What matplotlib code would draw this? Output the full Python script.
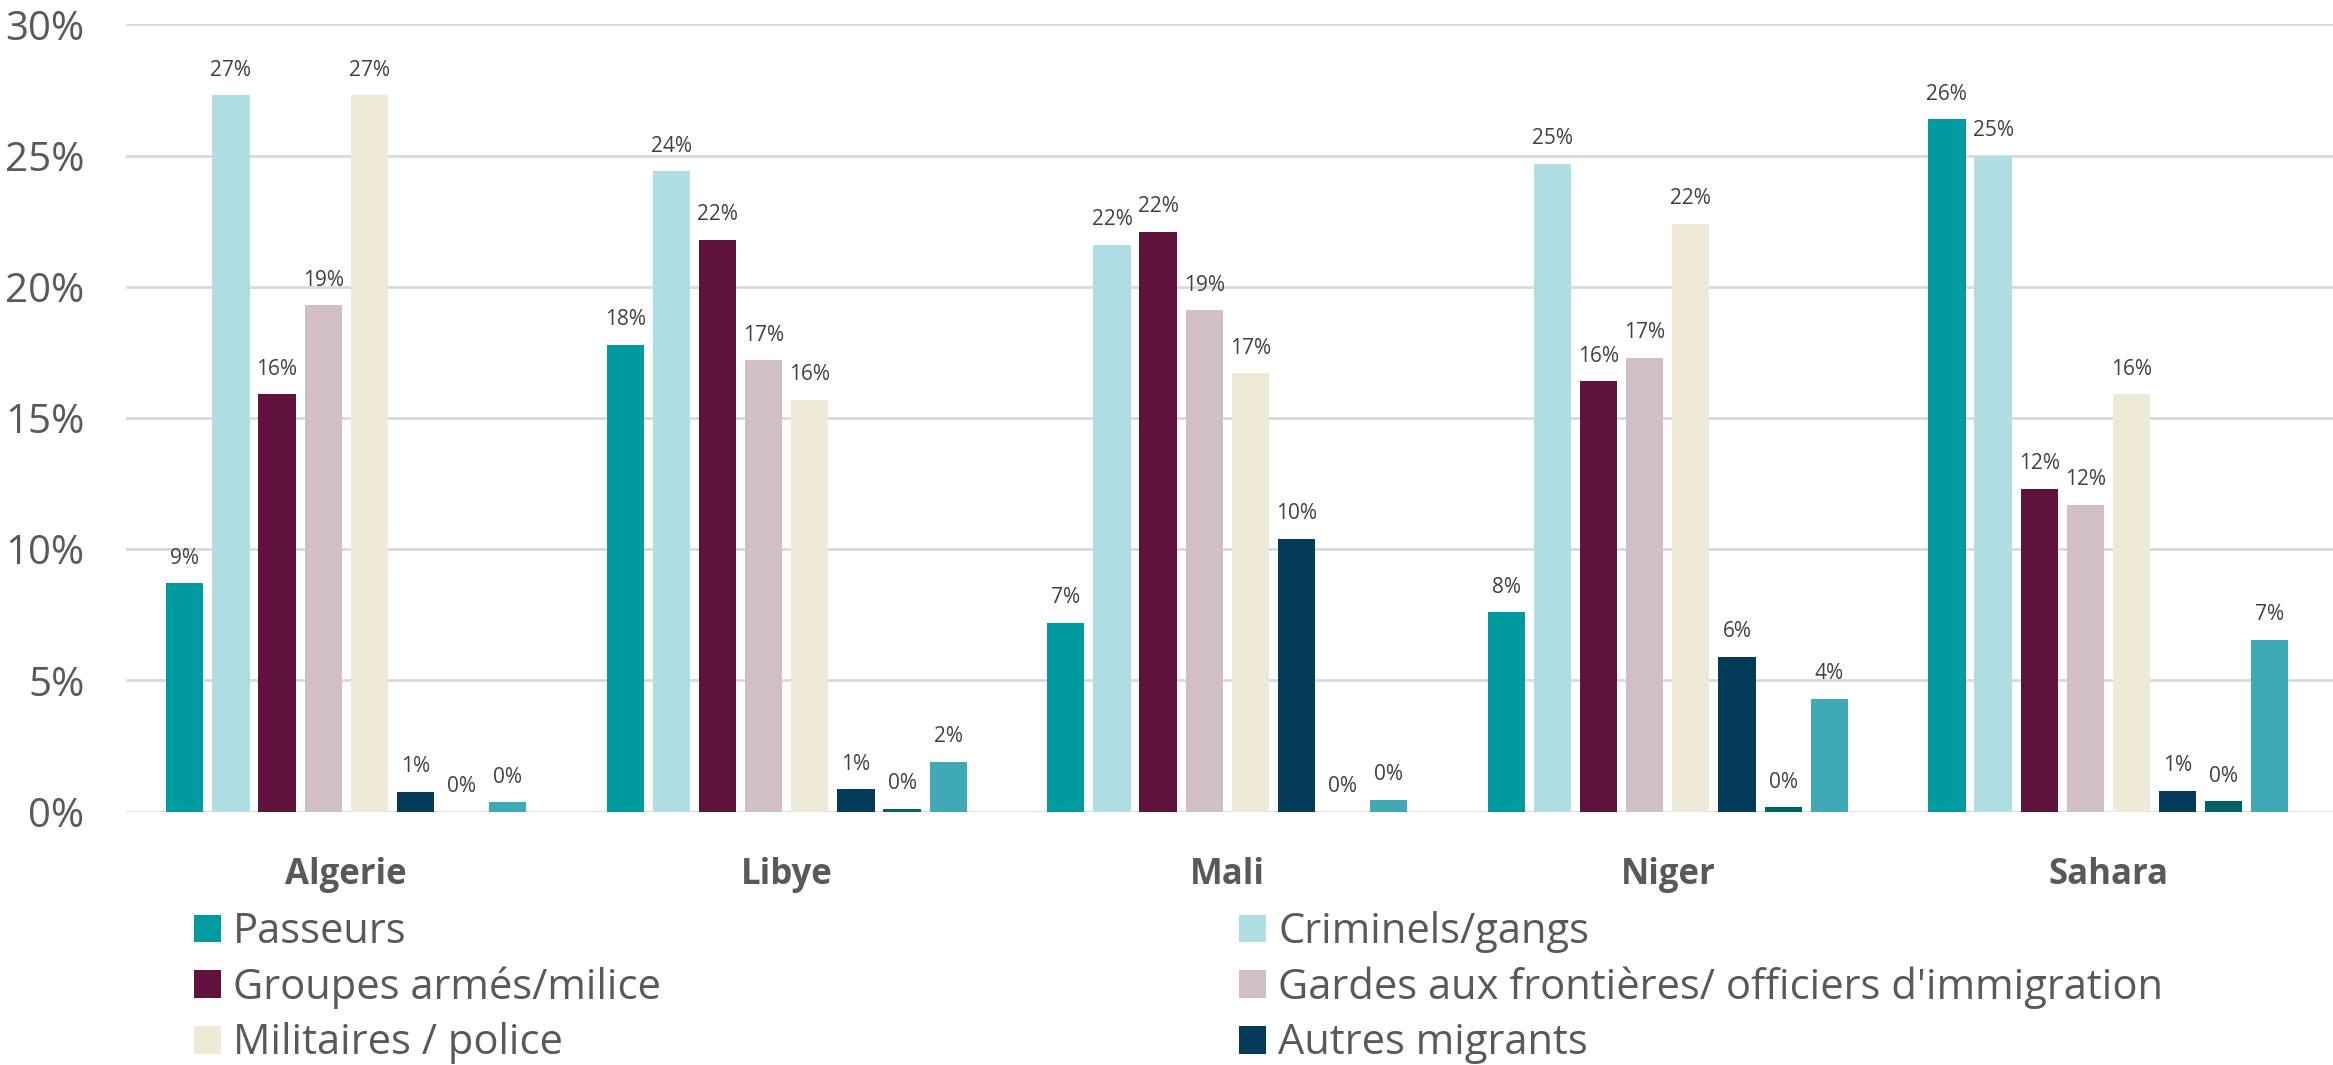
import matplotlib
matplotlib.use("Agg")
import matplotlib.pyplot as plt
import numpy as np
from matplotlib.patches import Patch

plt.rcParams['font.family'] = ['Open Sans', 'DejaVu Sans']

categories = ["Algerie", "Libye", "Mali", "Niger", "Sahara"]
series_names = ["Passeurs", "Criminels/gangs", "Groupes armés/milice",
                "Gardes aux frontières/ officiers d'immigration",
                "Militaires / police", "Autres migrants", "Autre", "Ne sait pas"]
passeurs = [8.7, 17.8, 7.2, 7.6, 26.4]
criminels = [27.3, 24.4, 21.6, 24.7, 25.0]
groupes = [15.9, 21.8, 22.1, 16.4, 12.3]
gardes = [19.3, 17.2, 19.1, 17.3, 11.7]
militaires = [27.3, 15.7, 16.7, 22.4, 15.9]
autres_migrants = [0.75, 0.85, 10.4, 5.9, 0.8]
serie7 = [0.0, 0.1, 0.0, 0.17, 0.4]
serie8 = [0.35, 1.9, 0.45, 4.3, 6.55]
values = [passeurs, criminels, groupes, gardes, militaires, autres_migrants, serie7, serie8]
colors = ["#009BA1", "#B0DFE3", "#5E123C", "#D1BEC6", "#EFE9D8", "#033B58", "#006363", "#3FAAB5"]
yticks = [0, 5, 10, 15, 20, 25, 30]

fig = plt.figure(figsize=(23.33, 10.65), dpi=100)
ax = fig.add_axes([0.054, 0.238, 0.946, 0.739])

x = np.arange(len(categories))
step = 0.1047
width = 0.0845
n = len(values)
for i, (vals, c) in enumerate(zip(values, colors)):
    pos = x + (i - (n - 1) / 2) * step
    ax.bar(pos, vals, width=width, color=c, zorder=3)
    for p, v in zip(pos, vals):
        ax.text(p, v + 0.55, f"{int(v + 0.5)}%", ha='center', va='bottom',
                fontsize=15, color='#404040', zorder=4)

ax.set_xlim(-0.5, 4.51)
ax.set_ylim(0, 30)
ax.set_yticks(yticks)
ax.set_yticklabels([f"{t}%" for t in yticks], fontsize=29, color='#595959')
ax.yaxis.grid(True, color='#D9D9D9', linewidth=2, zorder=0)
ax.set_axisbelow(True)
ax.set_xticks(x)
ax.set_xticklabels(categories, fontsize=25, fontweight='bold', color='#595959')
ax.tick_params(axis='both', length=0)
ax.tick_params(axis='x', pad=33)
ax.tick_params(axis='y', pad=30)
for s in ax.spines.values():
    s.set_visible(False)

leg_kw = dict(frameon=False, fontsize=30, handlelength=0.65, handleheight=0.65,
              handletextpad=0.3, labelspacing=0.32, borderaxespad=0, borderpad=0)
left_idx = [0, 2, 4]
right_idx = [1, 3, 5]
h1 = [Patch(facecolor=colors[i]) for i in left_idx]
h2 = [Patch(facecolor=colors[i]) for i in right_idx]
for t in (fig.legend(h1, [series_names[i] for i in left_idx], loc='upper left',
                     bbox_to_anchor=(0.083, 0.1445), **leg_kw),
          fig.legend(h2, [series_names[i] for i in right_idx], loc='upper left',
                     bbox_to_anchor=(0.531, 0.1445), **leg_kw)):
    for txt in t.get_texts():
        txt.set_color('#595959')

fig.savefig("out.png", dpi=100)
